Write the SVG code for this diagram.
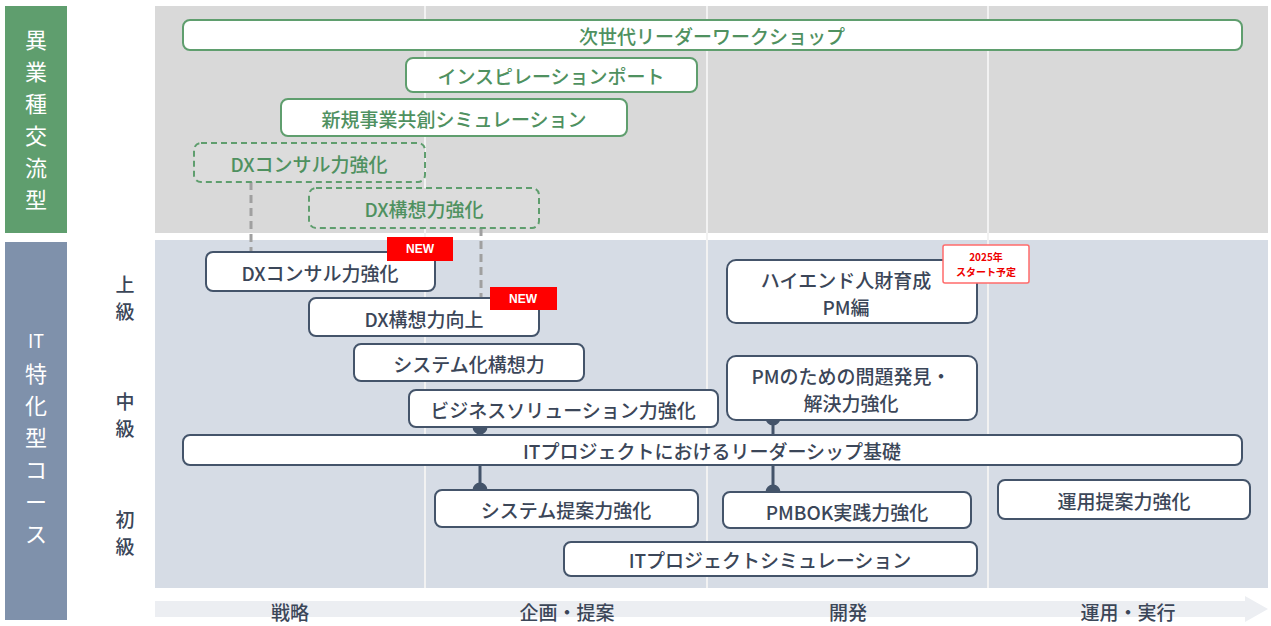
<svg xmlns="http://www.w3.org/2000/svg" width="1271" height="626" viewBox="0 0 1271 626">
<style>
text{font-family:"Noto Sans CJK JP","Noto Sans",sans-serif;text-anchor:middle;dominant-baseline:central}
.g{fill:#fff;stroke:#5f9e6e;stroke-width:2}
.gd{fill:#dcdcdc;stroke:#5f9e6e;stroke-width:2;stroke-dasharray:6 4}
.gt{fill:#4f9160;font-size:19px;font-weight:500}
.b{fill:#fff;stroke:#44546a;stroke-width:2}
.bt{fill:#3b4658;font-size:19px;font-weight:500}
.side{fill:#fff;font-size:22px}
.lvl{fill:#3b4658;font-size:19px;font-weight:500}
.col{fill:#3b4658;font-size:19px;font-weight:500}
.new{fill:#ff0000}
.newt{fill:#fff;font-size:12px;font-weight:bold;font-family:"Liberation Sans",sans-serif}
</style>
<rect x="0" y="0" width="1271" height="626" fill="#fff"/>
<rect x="5" y="6" width="62" height="227" fill="#5f9e6e"/>
<rect x="5" y="242" width="62" height="378" fill="#7f91ab"/>
<rect x="155" y="6" width="1113" height="227" fill="#d9d9d9"/>
<rect x="155" y="240" width="1113" height="348" fill="#d6dce5"/>
<g stroke="#f2f2f2" stroke-width="2"><line x1="425" y1="6" x2="425" y2="588"/><line x1="707" y1="6" x2="707" y2="588"/><line x1="988" y1="6" x2="988" y2="588"/></g>
<polygon points="155,601 1245,601 1245,596 1268,609 1245,622 1245,617 155,617" fill="#eceef2"/>
<g class="side"><text x="36" y="38">異</text><text x="36" y="70">業</text><text x="36" y="102">種</text><text x="36" y="134">交</text><text x="36" y="166">流</text><text x="36" y="198">型</text>
<text x="36" y="340" style="font-size:18px">IT</text><text x="36" y="372">特</text><text x="36" y="404">化</text><text x="36" y="436">型</text><text x="36" y="468">コ</text><text x="36" y="500">ー</text><text x="36" y="532">ス</text></g>
<g class="lvl"><text x="125" y="283">上</text><text x="125" y="310">級</text><text x="125" y="400">中</text><text x="125" y="427">級</text><text x="125" y="518">初</text><text x="125" y="545">級</text></g>
<g class="col"><text x="290" y="611">戦略</text><text x="567" y="611">企画・提案</text><text x="848" y="611">開発</text><text x="1128" y="611">運用・実行</text></g>
<g id="connectors" stroke-width="3">
<line x1="251" y1="182" x2="251" y2="252" stroke="#a0a0a0" stroke-dasharray="8 5"/>
<line x1="481" y1="228" x2="481" y2="298" stroke="#a0a0a0" stroke-dasharray="8 5"/>
<g stroke="#44546a" fill="#44546a"><line x1="480" y1="427" x2="480" y2="435"/><circle cx="480" cy="427" r="6"/>
<line x1="480" y1="465" x2="480" y2="490"/><circle cx="480" cy="490" r="6"/>
<line x1="773" y1="418" x2="773" y2="435"/><circle cx="773" cy="418" r="6"/>
<line x1="773" y1="465" x2="773" y2="492"/><circle cx="773" cy="492" r="6"/></g>
</g>
<g id="n1"><rect class="g" x="183" y="20" width="1059" height="30" rx="7"/><text class="gt" x="712" y="35">次世代リーダーワークショップ</text></g>
<g id="n2"><rect class="g" x="406" y="58" width="291" height="34" rx="7"/><text class="gt" x="551" y="75">インスピレーションポート</text></g>
<g id="n3"><rect class="g" x="281" y="99" width="346" height="37" rx="7"/><text class="gt" x="454" y="118">新規事業共創シミュレーション</text></g>
<g id="n4"><rect class="gd" x="194" y="143" width="231" height="39" rx="7"/><text class="gt" x="309" y="163">DXコンサル力強化</text></g>
<g id="n5"><rect class="gd" x="309" y="188" width="230" height="40" rx="7"/><text class="gt" x="424" y="208">DX構想力強化</text></g>
<g id="n6"><rect class="b" x="206" y="252" width="229" height="39" rx="7"/><text class="bt" x="320" y="272">DXコンサル力強化</text><rect class="new" x="387" y="237" width="66" height="24"/><text class="newt" x="420" y="249">NEW</text></g>
<g id="n7"><rect class="b" x="309" y="298" width="230" height="38" rx="7"/><text class="bt" x="424" y="318">DX構想力向上</text><rect class="new" x="490" y="287" width="67" height="23"/><text class="newt" x="523" y="299">NEW</text></g>
<g id="n8"><rect class="b" x="354" y="344" width="230" height="37" rx="7"/><text class="bt" x="469" y="363">システム化構想力</text></g>
<g id="n9"><rect class="b" x="409" y="390" width="309" height="37" rx="7"/><text class="bt" x="563" y="409">ビジネスソリューション力強化</text></g>
<g id="n10"><rect class="b" x="727" y="260" width="250" height="63" rx="9"/><text class="bt" x="846" y="279">ハイエンド人財育成</text><text class="bt" x="846" y="306">PM編</text>
<rect x="943" y="245" width="86" height="38" fill="#fff" stroke="#ff6b6b" stroke-width="1.5" rx="2"/><text x="986" y="256" fill="#e00" style="font-size:10px;font-weight:bold">2025年</text><text x="986" y="271" fill="#e00" style="font-size:10px;font-weight:bold">スタート予定</text></g>
<g id="n11"><rect class="b" x="727" y="356" width="250" height="64" rx="9"/><text class="bt" x="851" y="375">PMのための問題発見・</text><text class="bt" x="851" y="402">解決力強化</text></g>
<g id="n12"><rect class="b" x="183" y="435" width="1059" height="30" rx="7"/><text class="bt" x="712" y="450">ITプロジェクトにおけるリーダーシップ基礎</text></g>
<g id="n13"><rect class="b" x="435" y="490" width="263" height="37" rx="7"/><text class="bt" x="566" y="509">システム提案力強化</text></g>
<g id="n14"><rect class="b" x="723" y="492" width="248" height="36" rx="7"/><text class="bt" x="847" y="511">PMBOK実践力強化</text></g>
<g id="n15"><rect class="b" x="998" y="480" width="252" height="39" rx="7"/><text class="bt" x="1124" y="500">運用提案力強化</text></g>
<g id="n16"><rect class="b" x="564" y="542" width="413" height="34" rx="7"/><text class="bt" x="770" y="559">ITプロジェクトシミュレーション</text></g>
</svg>
